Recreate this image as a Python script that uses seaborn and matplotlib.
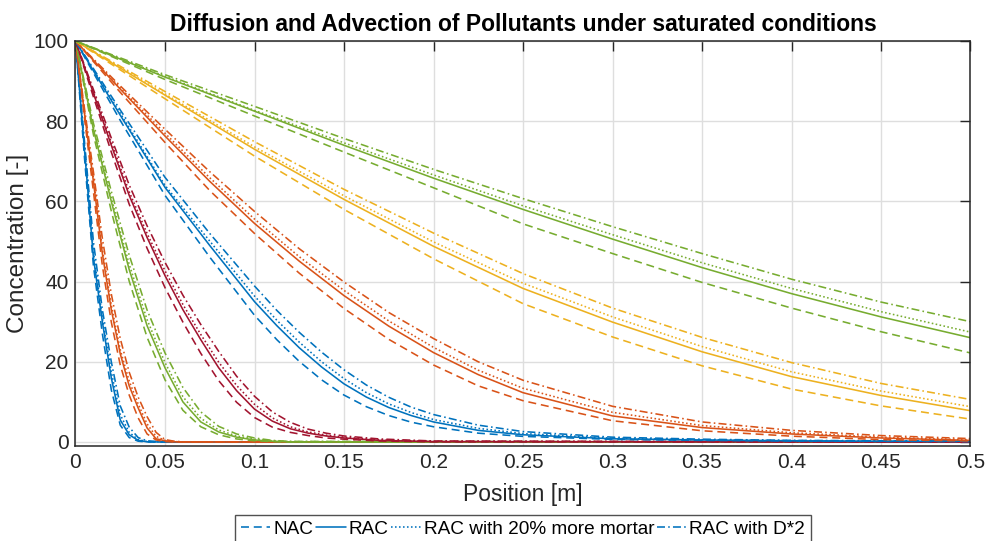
import matplotlib
matplotlib.use("Agg")
import numpy as np
import pandas as pd
import matplotlib.pyplot as plt
import seaborn as sns
from matplotlib.ticker import FuncFormatter, MultipleLocator

# ---------------- data ----------------
labels = ["NAC", "RAC", "RAC with 20% more mortar", "RAC with D*2"]

# group 1 (blue, fastest)
x_g1 = [0, .005, .01, .015, .02, .025, .03, .035, .04, .05, .5]
nac_g1 = [100, 71, 44, 27, 13, 4.2, 1.1, 0.2, 0, 0, 0]
rac_g1 = [100, 73, 46, 30, 16, 5.5, 1.8, 0.4, 0.05, 0, 0]
m20_g1 = [100, 74, 47.5, 31, 17.5, 6.8, 2.4, 0.6, 0.1, 0, 0]
d2_g1 = [100, 75, 50, 33, 20, 9, 3.7, 1.1, 0.3, 0, 0]

# group 2 (orange)
x_g2 = [0, .005, .01, .015, .02, .025, .03, .035, .04, .045, .05, .055, .06, .5]
nac_g2 = [100, 80.8, 62.5, 44, 29.9, 19.2, 11.7, 6, 2, 0.5, 0.1, 0, 0, 0]
rac_g2 = [100, 82, 65, 47, 33, 22, 14, 8.5, 3.5, 0.8, 0.3, 0.05, 0, 0]
m20_g2 = [100, 82.4, 65.9, 48.1, 34.1, 23, 15.2, 9.5, 4.5, 1.4, 0.4, 0.1, 0, 0]
d2_g2 = [100, 83.2, 67.4, 50.8, 36.9, 25.8, 17.4, 11.2, 6.3, 2.4, 0.6, 0.2, 0.05, 0]

# group 3 (green)
x_g3 = [0, .01, .02, .03, .04, .05, .06, .07, .08, .09, .1, .11, .12, .5]
nac_g3 = [100, 76.7, 57.6, 40.1, 26.1, 15.5, 7.9, 3.8, 1.8, 0.76, 0.3, 0.1, 0, 0]
rac_g3 = [100, 78, 60, 43, 29, 18.5, 10, 5, 2.5, 1.2, 0.5, 0.2, 0, 0]
m20_g3 = [100, 78.6, 60.9, 44.3, 30.5, 19.8, 11.3, 5.9, 3, 1.5, 0.7, 0.3, 0.1, 0]
d2_g3 = [100, 79.5, 62.5, 46.6, 32.9, 22.2, 13.6, 7.5, 3.9, 2.0, 1.0, 0.4, 0.15, 0]

# group 4 (dark red)
x_g4 = [0, .01, .02, .03, .04, .05, .06, .07, .08, .09, .1, .11, .12, .13, .14,
        .15, .17, .2, .5]
nac_g4 = [100, 86.1, 72.3, 59.3, 48.3, 38.5, 29.9, 22.1, 15.3, 9.9, 6.1, 3.7,
          2.4, 1.6, 1.0, 0.7, 0.25, 0.05, 0]
rac_g4 = [100, 87, 74, 61.5, 51, 41.5, 33, 25.5, 18.5, 12.8, 8.2, 5.2, 3.3,
          2.2, 1.5, 1.0, 0.4, 0.1, 0]
m20_g4 = [100, 87.3, 74.7, 62.4, 52, 42.7, 34.3, 26.8, 19.9, 14.1, 9.4, 6.0,
          3.8, 2.5, 1.7, 1.2, 0.5, 0.15, 0]
d2_g4 = [100, 87.9, 75.8, 64.1, 53.9, 44.8, 36.6, 29.3, 22.6, 16.4, 11.4, 7.5,
         4.9, 3.2, 2.2, 1.5, 0.75, 0.25, 0]

# group 5 (blue)
x_g5 = [0, .025, .05, .075, .1, .1125, .125, .1375, .15, .1625, .175, .1875,
        .2, .225, .25, .3, .35, .4, .45, .5]
nac_g5 = [100, 80.2, 61.5, 46.1, 31.6, 25.5, 20.1, 15.5, 11.7, 8.8, 6.6, 4.95,
          3.8, 2.2, 1.4, 0.65, 0.4, 0.25, 0.15, 0.1]
rac_g5 = [100, 81.5, 63.5, 49, 35, 29, 23.5, 18.7, 14.5, 11.2, 8.6, 6.6,
          5.0, 2.9, 1.8, 0.8, 0.5, 0.3, 0.2, 0.2]
m20_g5 = [100, 82, 64, 50.1, 36.4, 30.35, 24.9, 20.0, 15.8, 12.3, 9.5, 7.35,
          5.6, 3.4, 2.1, 0.95, 0.55, 0.35, 0.25, 0.2]
d2_g5 = [100, 82.8, 66, 52, 38.9, 32.8, 27.35, 22.4, 18.0, 14.2, 11.15, 8.7,
         6.85, 4.2, 2.6, 1.2, 0.7, 0.4, 0.3, 0.25]

# group 6 (orange)
x_g6 = [0, .025, .05, .075, .1, .125, .15, .175, .2, .225, .25, .3, .35, .4, .45, .5]
nac_g6 = [100, 87.2, 74.7, 62.7, 52, 42.1, 33.3, 25.6, 19.2, 14.0, 10.3, 5.3,
          2.8, 1.45, 0.6, 0.25]
rac_g6 = [100, 88, 76.3, 65, 54.5, 45.1, 36.5, 28.9, 22.3, 16.8, 12.3, 6.5,
          3.6, 2, 1, 0.4]
m20_g6 = [100, 88.3, 77, 65.9, 55.6, 46.2, 37.8, 30.2, 23.6, 17.9, 13.4,
          7.4, 4.1, 2.3, 1.2, 0.55]
d2_g6 = [100, 88.8, 78, 67.4, 57.5, 48.2, 39.9, 32.3, 25.8, 20.0, 15.4,
         8.9, 5.0, 2.9, 1.6, 0.85]

# group 7 (yellow)
x_g7 = [0, .05, .1, .15, .2, .25, .3, .35, .4, .45, .5]
nac_g7 = [100, 85.6, 71.3, 58, 45.7, 34.5, 26.2, 19, 13.2, 9.0, 5.7]
rac_g7 = [100, 86.5, 73, 60.5, 48.8, 38.3, 29.9, 22.5, 16.3, 11.6, 7.8]
m20_g7 = [100, 86.8, 73.6, 61.4, 49.9, 39.6, 31.2, 23.8, 17.5, 12.7, 8.8]
d2_g7 = [100, 87.4, 74.9, 63, 52.1, 42, 33.4, 26.1, 19.8, 14.6, 10.6]

# group 8 (green, slowest)
x_g8 = [0, .05, .1, .15, .2, .25, .3, .35, .4, .45, .5]
nac_g8 = [100, 90.4, 81.3, 72.3, 63.4, 54.4, 47, 39.8, 33.4, 27.5, 22.2]
rac_g8 = [100, 91, 82.5, 74, 65.8, 58, 50.6, 43.5, 37, 31.2, 26]
m20_g8 = [100, 91.2, 82.7, 74.6, 66.6, 58.9, 51.7, 44.7, 38.3, 32.5, 27.4]
d2_g8 = [100, 91.6, 83.7, 75.7, 68, 60.7, 53.7, 47, 40.6, 34.9, 30]

# ---------------- style ----------------
BLUE, ORANGE, YELLOW = "#0072BD", "#D95319", "#EDB120"
GREEN, DARKRED = "#77AC30", "#A2142F"

groups = [
    (x_g1, [nac_g1, rac_g1, m20_g1, d2_g1], BLUE),
    (x_g2, [nac_g2, rac_g2, m20_g2, d2_g2], ORANGE),
    (x_g3, [nac_g3, rac_g3, m20_g3, d2_g3], GREEN),
    (x_g4, [nac_g4, rac_g4, m20_g4, d2_g4], DARKRED),
    (x_g5, [nac_g5, rac_g5, m20_g5, d2_g5], BLUE),
    (x_g6, [nac_g6, rac_g6, m20_g6, d2_g6], ORANGE),
    (x_g7, [nac_g7, rac_g7, m20_g7, d2_g7], YELLOW),
    (x_g8, [nac_g8, rac_g8, m20_g8, d2_g8], GREEN),
]
linestyles = [(0, (5, 3)), "-", (0, (1, 1.5)), (0, (5, 2, 1, 2))]

sns.set_style("white")
plt.rcParams["font.family"] = ["Liberation Sans", "DejaVu Sans"]
TXT = "#262626"

fig = plt.figure(figsize=(9.87, 5.41), dpi=100)
ax = fig.add_axes([75.5 / 987, 1 - 446 / 541, 895 / 987, 405 / 541])

for x, series, col in groups:
    for vals, ls in zip(series, linestyles):
        df = pd.DataFrame({"x": x, "y": vals})
        sns.lineplot(data=df, x="x", y="y", ax=ax, color=col, linestyle=ls,
                     linewidth=1.15, estimator=None, sort=False, legend=False)

ax.set_xlim(0, 0.5)
ax.set_ylim(-1, 100)
ax.xaxis.set_major_locator(MultipleLocator(0.05))
ax.yaxis.set_major_locator(MultipleLocator(20))
ax.xaxis.set_major_formatter(FuncFormatter(lambda v, p: f"{v:g}"))
ax.grid(True, color="#dedede", linewidth=1.0)
ax.set_axisbelow(True)
ax.tick_params(direction="in", length=7, width=1.0, top=True, right=True,
               colors=TXT, labelsize=15, pad=5)
for s in ax.spines.values():
    s.set_color(TXT)
    s.set_linewidth(1.1)

ax.set_xlabel("Position [m]", fontsize=16.5, color=TXT, labelpad=8)
ax.set_ylabel("Concentration [-]", fontsize=17.5, color=TXT, labelpad=3)
ax.set_title("Diffusion and Advection of Pollutants under saturated conditions",
             fontsize=16.5, fontweight="bold", color="black", pad=7)

handles = ax.lines[0:4]
leg = fig.legend(handles, labels, loc="upper center",
                 bbox_to_anchor=(523 / 987, 1 - 515 / 541), ncol=4,
                 frameon=True, fancybox=False, edgecolor=TXT, fontsize=13.7,
                 handlelength=1.55, handletextpad=0.15, columnspacing=0.15,
                 borderpad=0.3, borderaxespad=0)
leg.get_frame().set_linewidth(1.0)
for t in leg.get_texts():
    t.set_color("black")

fig.savefig("out.png", dpi=100)
